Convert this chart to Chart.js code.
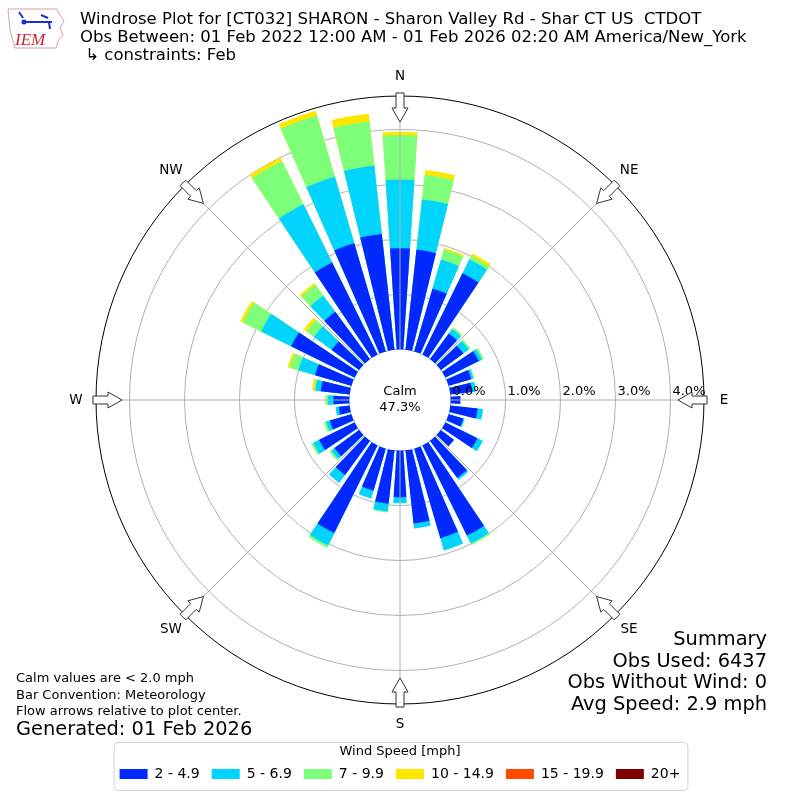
<!DOCTYPE html>
<html>
<head>
<meta charset="utf-8">
<script src="https://cdn.jsdelivr.net/npm/chart.js@4"></script>
<style>
  html, body { margin: 0; padding: 0; background: #fff; }
</style>
</head>
<body>
<canvas id="rose" width="800" height="800"></canvas>
<script>
// bar centres, degrees clockwise from north
var directions = [0,10,20,30,40,50,60,70,80,90,100,110,120,130,140,150,160,170,
                  180,190,200,210,220,230,240,250,260,270,280,290,300,310,320,330,340,350]
var speedBins = ['2 - 4.9', '5 - 6.9', '7 - 9.9', '10 - 14.9', '15 - 19.9', '20+']
var binColors = ['#0028ff', '#00d4ff', '#7dff7a', '#ffe600', '#ff4a00', '#800000']

// percent of observations per direction, one list per speed bin
var pct2to5 = [1.84,1.83,1.19,1.65,0.58,0.51,0.68,0.43,0.40,0.18,0.50,0.28,0.65,0.30,0.84,1.83,1.70,1.34,
               0.85,0.98,0.80,1.78,0.77,0.56,0.72,0.41,0.20,0.29,0.53,0.69,1.29,0.62,1.07,1.87,2.05,2.12]
var pct5to7 = [1.25,0.92,0.55,0.28,0.10,0.12,0.06,0.04,0.07,0.00,0.10,0.02,0.11,0.00,0.04,0.16,0.23,0.09,
               0.11,0.14,0.15,0.25,0.18,0.07,0.12,0.07,0.06,0.10,0.10,0.32,0.61,0.40,0.37,1.18,1.26,1.25]
var pct7to10 = [0.81,0.45,0.19,0.07,0.04,0.04,0.04,0.02,0.00,0.00,0.00,0.01,0.00,0.00,0.00,0.03,0.00,0.00,
                0.00,0.02,0.00,0.05,0.00,0.04,0.04,0.04,0.00,0.05,0.02,0.16,0.37,0.17,0.24,0.88,1.16,0.81]
var pct10to15 = [0.06,0.09,0.03,0.05,0,0,0,0,0,0,0,0,0,0,0,0,0,0,
                 0,0,0,0,0,0,0,0,0,0,0.04,0.04,0.05,0.06,0.04,0.07,0.09,0.14]
var pct15to20 = [0,0,0,0,0,0,0,0,0,0,0,0,0,0,0,0,0,0,
                 0,0,0,0,0,0,0,0,0,0,0,0,0,0,0,0,0,0]
var pct20up = [0,0,0,0,0,0,0,0,0,0,0,0,0,0,0,0,0,0,
               0,0,0,0,0,0,0,0,0,0,0,0,0,0,0,0,0,0]

var radialTicks = [0, 1, 2, 3, 4]
var calmPct = 47.3
var compass = ['N', 'NE', 'E', 'SE', 'S', 'SW', 'W', 'NW']

var R_MIN = -0.92   // pushes 0% out to the calm circle
var R_MAX = 4.61
var BAR_DEG = 7.5
var GAP_DEG = 2.5

// stacked bars: each speed bin is drawn as the running total, inner bins on top
var bins = [pct2to5, pct5to7, pct7to10, pct10to15, pct15to20, pct20up]
var labels = []
directions.forEach(function(d){ labels.push(d + '°'); labels.push('') })
var running = directions.map(function(){ return 0 })
var datasets = bins.map(function(vals, k){
  var data = []
  vals.forEach(function(v, i){
    running[i] += v
    data.push(v > 0 ? running[i] : R_MIN)
    data.push(R_MIN)  // the gap between bars
  })
  return {
    label: speedBins[k],
    data: data,
    backgroundColor: binColors[k],
    borderWidth: 0,
    angle: function(ctx){ return ctx.index % 2 ? GAP_DEG : BAR_DEG }
  }
})

var headerLines = [
  'Windrose Plot for [CT032] SHARON - Sharon Valley Rd - Shar CT US  CTDOT',
  'Obs Between: 01 Feb 2022 12:00 AM - 01 Feb 2026 02:20 AM America/New_York',
  ' \u21b3 constraints: Feb'
]
var noteLines = ['Calm values are < 2.0 mph', 'Bar Convention: Meteorology', 'Flow arrows relative to plot center.']
var summaryLines = ['Summary', 'Obs Used: 6437', 'Obs Without Wind: 0', 'Avg Speed: 2.9 mph']

function drawArrow(ctx, cx, cy, R, deg){
  var a = deg * Math.PI / 180
  var ux = Math.sin(a), uy = -Math.cos(a)
  var px = Math.cos(a), py = Math.sin(a)
  var pts = [[R + 3, -4], [R - 12, -4], [R - 12, -8], [R - 26, 0], [R - 12, 8], [R - 12, 4], [R + 3, 4]]
  ctx.beginPath()
  pts.forEach(function(p, i){
    var x = cx + ux * p[0] + px * p[1], y = cy + uy * p[0] + py * p[1]
    if (i) ctx.lineTo(x, y); else ctx.moveTo(x, y)
  })
  ctx.closePath()
  ctx.fillStyle = '#fff'
  ctx.fill()
  ctx.strokeStyle = '#333'
  ctx.lineWidth = 1
  ctx.stroke()
}

function drawLogo(ctx){
  ctx.save()
  ctx.beginPath()
  var outline = [[8,9],[57,9],[59,14],[64,21],[60,28],[63,35],[58,41],[56,48],[15,48],[13,41],[10,30],[9,20]]
  outline.forEach(function(p, i){ if (i) ctx.lineTo(p[0], p[1]); else ctx.moveTo(p[0], p[1]) })
  ctx.closePath()
  ctx.strokeStyle = '#d9a0a0'
  ctx.lineWidth = 1
  ctx.stroke()
  ctx.strokeStyle = '#1a2fd0'
  ctx.fillStyle = '#1a2fd0'
  ctx.lineWidth = 2
  ctx.beginPath(); ctx.moveTo(24, 22); ctx.lineTo(52, 22); ctx.stroke()
  ctx.beginPath(); ctx.moveTo(19, 12); ctx.lineTo(23, 18); ctx.stroke()
  ctx.beginPath(); ctx.moveTo(41, 15); ctx.lineTo(48, 18); ctx.stroke()
  ctx.beginPath(); ctx.moveTo(49, 22); ctx.lineTo(50, 29); ctx.stroke()
  ctx.beginPath(); ctx.arc(24, 22, 2.5, 0, Math.PI * 2); ctx.fill()
  ctx.font = 'italic 17px "Liberation Serif"'
  ctx.fillStyle = '#c8262c'
  ctx.textAlign = 'left'
  ctx.textBaseline = 'alphabetic'
  ctx.fillText('IEM', 15, 45)
  ctx.restore()
}

var roseDecor = {
  id: 'roseDecor',
  afterDatasetsDraw: function(chart){
    var r = chart.scales.r, ctx = chart.ctx
    ctx.save()
    ctx.beginPath()
    ctx.arc(r.xCenter, r.yCenter, r.getDistanceFromCenterForValue(0), 0, Math.PI * 2)
    ctx.fillStyle = '#fff'
    ctx.fill()
    ctx.restore()
  },
  afterDraw: function(chart){
    var r = chart.scales.r, ctx = chart.ctx
    var cx = r.xCenter, cy = r.yCenter, R = r.drawingArea
    var r0 = r.getDistanceFromCenterForValue(0)
    ctx.save()

    // spokes every 45 degrees
    ctx.strokeStyle = '#b0b0b0'
    ctx.lineWidth = 1
    for (var k = 0; k < 8; k++){
      var a = k * 45 * Math.PI / 180
      ctx.beginPath()
      ctx.moveTo(cx + r0 * Math.sin(a), cy - r0 * Math.cos(a))
      ctx.lineTo(cx + R * Math.sin(a), cy - R * Math.cos(a))
      ctx.stroke()
    }

    // radial tick labels along the east spoke
    ctx.fillStyle = '#000'
    ctx.font = '13px "DejaVu Sans"'
    ctx.textAlign = 'left'
    ctx.textBaseline = 'middle'
    radialTicks.forEach(function(v){
      ctx.fillText(v.toFixed(1) + '%', cx + r.getDistanceFromCenterForValue(v) + 2, cy - 8)
    })

    // calm in the middle
    ctx.textAlign = 'center'
    ctx.fillText('Calm', cx, cy - 8)
    ctx.fillText(calmPct.toFixed(1) + '%', cx, cy + 8)

    // compass labels and flow arrows
    compass.forEach(function(name, k){
      var a = k * 45 * Math.PI / 180
      ctx.fillStyle = '#000'
      ctx.font = '13.5px "DejaVu Sans"'
      ctx.textAlign = 'center'
      ctx.textBaseline = 'middle'
      ctx.fillText(name, cx + (R + 20) * Math.sin(a), cy - (R + 20) * Math.cos(a))
      drawArrow(ctx, cx, cy, R, k * 45)
    })

    // header
    ctx.fillStyle = '#000'
    ctx.textAlign = 'left'
    ctx.font = '16.5px "DejaVu Sans"'
    headerLines.forEach(function(t, i){ ctx.fillText(t, 80, 20 + i * 18) })

    // notes bottom left
    ctx.font = '13px "DejaVu Sans"'
    noteLines.forEach(function(t, i){ ctx.fillText(t, 16, 679 + i * 16.5) })
    ctx.font = '19.4px "DejaVu Sans"'
    ctx.fillText('Generated: 01 Feb 2026', 16, 730)

    // summary bottom right
    ctx.textAlign = 'right'
    summaryLines.forEach(function(t, i){ ctx.fillText(t, 767, 640 + i * 21.7) })

    // frame round the legend
    var lg = chart.legend
    var hb = lg.legendHitBoxes
    if (hb && hb.length){
      var last = hb[hb.length - 1]
      var x0 = hb[0].left - 6, x1 = last.left + last.width + 7
      var y0 = 742, y1 = 790
      ctx.strokeStyle = '#d0d0d0'
      ctx.lineWidth = 1
      ctx.beginPath()
      ctx.roundRect(x0 + 0.5, y0 + 0.5, x1 - x0, y1 - y0, 4)
      ctx.stroke()
    }

    drawLogo(ctx)
    ctx.restore()
  }
}

Chart.defaults.font.family = '"DejaVu Sans", sans-serif'
Chart.defaults.color = '#000'

new Chart(document.getElementById('rose'), {
  type: 'polarArea',
  data: { labels: labels, datasets: datasets },
  plugins: [roseDecor],
  options: {
    responsive: false,
    animation: false,
    events: [],
    layout: { padding: { top: 96, left: 96, right: 96, bottom: 9 } },
    scales: {
      r: {
        z: 1,
        min: R_MIN,
        max: R_MAX,
        startAngle: -BAR_DEG / 2,
        afterBuildTicks: function(scale){
          scale.ticks = radialTicks.concat([R_MAX]).map(function(v){ return { value: v } })
        },
        ticks: { display: false },
        pointLabels: { display: false },
        angleLines: { display: false },
        grid: {
          circular: true,
          lineWidth: 1,
          color: function(ctx){
            var v = ctx.tick ? ctx.tick.value : 1
            return (v === 0 || v === R_MAX) ? '#000' : '#b0b0b0'
          }
        }
      }
    },
    plugins: {
      tooltip: { enabled: false },
      legend: {
        position: 'bottom',
        title: {
          display: true,
          text: 'Wind Speed [mph]',
          font: { size: 13 },
          padding: { top: 41.5, bottom: -6.1 }
        },
        labels: {
          font: { size: 14 },
          boxWidth: 28,
          boxHeight: 10,
          padding: 12,
          generateLabels: function(chart){
            return speedBins.map(function(name, i){
              return { text: name, fillStyle: binColors[i], strokeStyle: binColors[i], lineWidth: 0, hidden: false, datasetIndex: i }
            })
          }
        }
      }
    }
  }
})
</script>
</body>
</html>
